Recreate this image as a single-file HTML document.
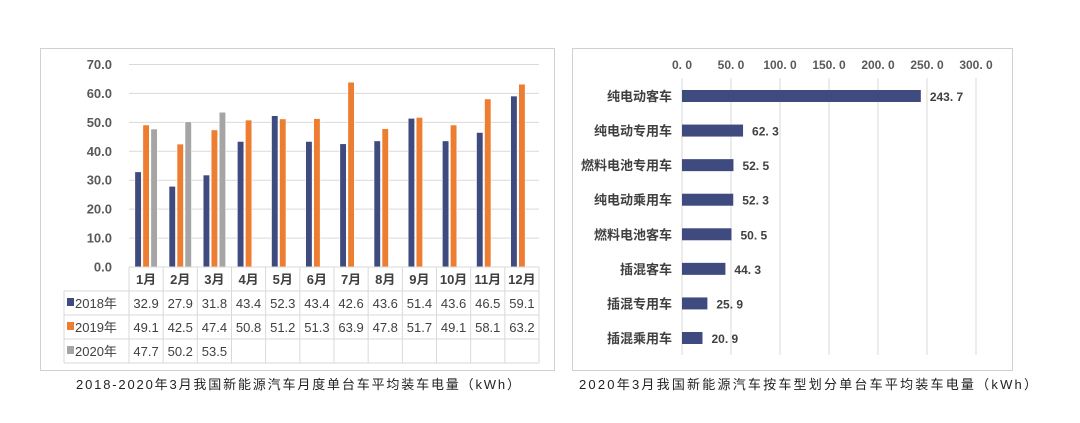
<!DOCTYPE html>
<html><head><meta charset="utf-8">
<style>
html,body{margin:0;padding:0;background:#fff;}
body{width:1080px;height:423px;overflow:hidden;position:relative;font-family:"Liberation Sans","Noto Sans CJK SC",sans-serif;}
svg{position:absolute;left:0;top:0;}
</style></head>
<body>
<svg id="c" width="1080" height="423" xmlns="http://www.w3.org/2000/svg"></svg>
<script>
const months=["1月","2月","3月","4月","5月","6月","7月","8月","9月","10月","11月","12月"];
const seriesNames=["2018年","2019年","2020年"];
const s2018=[32.9,27.9,31.8,43.4,52.3,43.4,42.6,43.6,51.4,43.6,46.5,59.1];
const s2019=[49.1,42.5,47.4,50.8,51.2,51.3,63.9,47.8,51.7,49.1,58.1,63.2];
const s2020=[47.7,50.2,53.5];
const leftTicks=[0,10,20,30,40,50,60,70];
const types=["纯电动客车","纯电动专用车","燃料电池专用车","纯电动乘用车","燃料电池客车","插混客车","插混专用车","插混乘用车"];
const typeValues=[243.7,62.3,52.5,52.3,50.5,44.3,25.9,20.9];
const rightTicks=[0,50,100,150,200,250,300];

const NS="http://www.w3.org/2000/svg";
const svg=document.getElementById('c');
function mk(tag,attrs,parent){const e=document.createElementNS(NS,tag);for(const k in attrs)e.setAttribute(k,attrs[k]);(parent||svg).appendChild(e);return e;}
function txt(x,y,s,attrs){const e=mk('text',Object.assign({x:x,y:y},attrs));e.textContent=s;return e;}

// ---- left chart ----
const lp=mk('g',{});


const lb=mk('rect',{x:40.5,y:48.5,width:514,height:322,fill:'#fff',stroke:'#d0d0d0'},lp);


const X0=129,X1=539,Y0=267,Y70=64.5;
const colW=(X1-X0)/months.length;
const yL=v=>Y0-(v/70)*(Y0-Y70);
leftTicks.forEach(t=>{
  const y=yL(t);
  if(t>0){const g=mk('line',{x1:X0,x2:X1,y1:y,y2:y,stroke:'#d9d9d9','stroke-width':1},lp);
  
  }
  const l=txt(112,y+4.5,t.toFixed(1),{'font-size':13,fill:'#595959','text-anchor':'end','font-weight':'bold'});
  
  
});
const colors=['#3f4a7f','#ed7d31','#a5a5a5'];
const allS=[s2018,s2019,s2020];
const bw=6.5,gap=1.5;
allS.forEach((s,si)=>{
  s.forEach((v,i)=>{
    const cx=X0+colW*(i+0.5);
    const x=cx-(3*bw+2*gap)/2+si*(bw+gap);
    const r=mk('rect',{x:x,y:yL(v),width:bw,height:Y0-yL(v),fill:colors[si],stroke:'#fff','stroke-width':0.6},lp);
    
    
  });
});
// data table
const rowsY=[267,291,315,339,363];
const tg=mk('g',{stroke:'#d9d9d9','stroke-width':1,fill:'none'},lp);


for(let r=0;r<rowsY.length;r++){mk('line',{x1:r===0?X0:64,x2:X1,y1:rowsY[r],y2:rowsY[r]},tg);}
mk('line',{x1:64,x2:64,y1:291,y2:363},tg);
for(let i=0;i<=months.length;i++){const x=X0+colW*i;mk('line',{x1:x,x2:x,y1:267,y2:363},tg);}
months.forEach((m,i)=>{
  const l=txt(X0+colW*(i+0.5),284,m,{'font-size':13,fill:'#404040','text-anchor':'middle','font-weight':'bold'});
  
  
});
allS.forEach((s,si)=>{
  const y=rowsY[si+1]+17;
  const sw=mk('rect',{x:67,y:y-10,width:7,height:8,fill:colors[si]},lp);
  
  
  const ln=txt(75,y,seriesNames[si],{'font-size':13,fill:'#404040'});
  
  
  s.forEach((v,i)=>{
    const c=txt(X0+colW*(i+0.5),y,v.toFixed(1),{'font-size':13,fill:'#404040','text-anchor':'middle'});
    
    
  });
});
const cap1=txt(298,389,"2018-2020年3月我国新能源汽车月度单台车平均装车电量（kWh）",{'font-size':13,fill:'#222','text-anchor':'middle','textLength':444});



// ---- right chart ----
const rp=mk('g',{});


const rb=mk('rect',{x:572.5,y:48.5,width:440,height:322,fill:'#fff',stroke:'#d0d0d0'},rp);


const RX0=682,RX300=976;
const xR=v=>RX0+v/300*(RX300-RX0);
rightTicks.forEach(t=>{
  const x=xR(t);
  const g=mk('line',{x1:x,x2:x,y1:78,y2:355,stroke:'#d9d9d9','stroke-width':1},rp);
  
  
  const l=txt(x,69,t.toFixed(1).replace('.','. '),{'font-size':12,fill:'#595959','text-anchor':'middle','font-weight':'bold'});
  
  
});
const step=(338-96)/(types.length-1);
types.forEach((t,i)=>{
  const cy=96+i*step;
  const l=txt(672,cy+5,t,{'font-size':13,fill:'#404040','text-anchor':'end','font-weight':'bold'});
  
  
  const v=typeValues[i];
  const r=mk('rect',{x:RX0,y:cy-6,width:xR(v)-RX0,height:12,fill:'#3f4a7f'},rp);
  
  
  const vl=txt(xR(v)+9,cy+5,v.toFixed(1).replace('.','. '),{'font-size':12,fill:'#404040','font-weight':'bold'});
  
  
});
const cap2=txt(808,389,"2020年3月我国新能源汽车按车型划分单台车平均装车电量（kWh）",{'font-size':13,fill:'#222','text-anchor':'middle','textLength':458});


</script>
</body></html>
